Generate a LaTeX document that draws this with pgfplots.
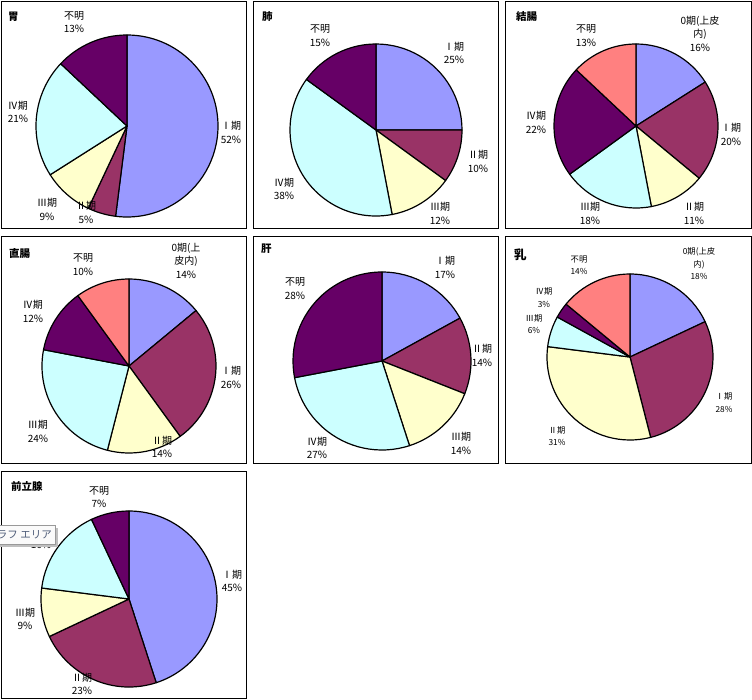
\documentclass[border=0pt]{standalone}
\usepackage{fontspec}
\setmainfont{Noto Sans CJK JP}
\usepackage{pgfplots}
\usepackage{pgfplotstable}
\pgfplotsset{compat=1.18}
\definecolor{cA}{HTML}{9999FF}
\definecolor{cB}{HTML}{993366}
\definecolor{cC}{HTML}{FFFFCC}
\definecolor{cD}{HTML}{CCFFFF}
\definecolor{cE}{HTML}{660066}
\definecolor{cF}{HTML}{FF8080}
\definecolor{tipcol}{HTML}{4E5C78}
\newcommand\lab{\fontsize{10}{13.5}\selectfont}
\newcommand\labs{\fontsize{8.3}{12.5}\selectfont}
\newcommand\ttl{\fontsize{10.5}{12}\selectfont\bfseries}

% data: v = percent, c = colour
\pgfplotstableread{
v c
52 cA
5 cB
9 cC
21 cD
13 cE
}\tIchi
\pgfplotstableread{
v c
25 cA
10 cB
12 cC
38 cD
15 cE
}\tHai
\pgfplotstableread{
v c
16 cA
20 cB
11 cC
18 cD
22 cE
13 cF
}\tKetsu
\pgfplotstableread{
v c
14 cA
26 cB
14 cC
24 cD
12 cE
10 cF
}\tChoku
\pgfplotstableread{
v c
17 cA
14 cB
14 cC
27 cD
28 cE
}\tKan
\pgfplotstableread{
v c
18 cA
28 cB
31 cC
6 cD
3 cE
14 cF
}\tNyu
\pgfplotstableread{
v c
45 cA
23 cB
9 cC
16 cD
7 cE
}\tZen

\newcommand\pie[4]{%
  \gdef\cum{0}%
  \pgfplotstableforeachcolumnelement{v}\of#1\as\val{%
    \pgfplotstablegetelem{\pgfplotstablerow}{c}\of#1%
    \edef\col{\pgfplotsretval}%
    \pgfmathsetmacro\angA{90-3.6*\cum}%
    \pgfmathsetmacro\angB{90-3.6*(\cum+\val)}%
    \draw[line width=1.2pt, fill=\col, line join=round] (axis cs:#2,#3) -- ++(\angA:#4pt) arc[start angle=\angA, end angle=\angB, radius=#4pt] -- cycle;
    \pgfmathsetmacro\tmp{\cum+\val}\xdef\cum{\tmp}%
  }%
}
\newcommand\lb[3]{\node[align=center, font=\lab, inner sep=0pt] at (axis cs:#1,#2) {#3};}
\newcommand\lbs[3]{\node[align=center, font=\labs, inner sep=0pt] at (axis cs:#1,#2) {#3};}
\newcommand\ttlnode[3]{\node[anchor=west, font=\ttl, inner sep=0pt] at (axis cs:#1,#2) {#3};}

\begin{document}
\begin{tikzpicture}
\begin{axis}[at={(0,0)}, anchor=south west, width=752pt, height=699pt, scale only axis,
  xmin=0, xmax=752, ymin=0, ymax=699, y dir=reverse, hide axis, clip=false]
\pgfplotsextra{
  % frames
  \draw[line width=0.9pt] (axis cs:1,1) rectangle (axis cs:246,228);
  \draw[line width=0.9pt] (axis cs:253,1) rectangle (axis cs:498,228);
  \draw[line width=0.9pt] (axis cs:505,1) rectangle (axis cs:751,228);
  \draw[line width=0.9pt] (axis cs:1,236) rectangle (axis cs:246,463);
  \draw[line width=0.9pt] (axis cs:253,236) rectangle (axis cs:498,463);
  \draw[line width=0.9pt] (axis cs:505,236) rectangle (axis cs:751,463);
  \draw[line width=0.9pt] (axis cs:1,471) rectangle (axis cs:246,698);
  % pies
  \pie{\tIchi}{127}{126}{91}
  \pie{\tHai}{376}{130}{86}
  \pie{\tKetsu}{636}{126}{82}
  \pie{\tChoku}{129}{366}{87}
  \pie{\tKan}{382}{361}{89}
  \pie{\tNyu}{630}{357}{83}
  \pie{\tZen}{129}{599}{88}
  % titles
  \ttlnode{8}{17}{胃}
  \ttlnode{262}{17}{肺}
  \ttlnode{516}{17}{結腸}
  \ttlnode{9}{254}{直腸}
  \ttlnode{261}{249}{肝}
  \node[anchor=west, font=\fontsize{12.5}{13}\selectfont\bfseries, inner sep=0pt] at (axis cs:514,255) {乳};
  \ttlnode{11}{487}{前立腺}
  % labels: stomach
  \lb{74}{22}{不明\\13\%}
  \lb{18}{112}{Ⅳ期\\21\%}
  \lb{231}{132.5}{Ⅰ期\\52\%}
  \lb{47}{209.5}{Ⅲ期\\9\%}
  \lb{86}{212.5}{Ⅱ期\\5\%}
  % lung
  \lb{320}{35.5}{不明\\15\%}
  \lb{454}{53}{Ⅰ期\\25\%}
  \lb{478}{161.5}{Ⅱ期\\10\%}
  \lb{440}{213.5}{Ⅲ期\\12\%}
  \lb{284}{189}{Ⅳ期\\38\%}
  % colon
  \lb{700}{33.5}{0期(上皮\\内)\\16\%}
  \lb{586}{35.5}{不明\\13\%}
  \lb{731}{134.5}{Ⅰ期\\20\%}
  \lb{694}{213.5}{Ⅱ期\\11\%}
  \lb{590}{213.5}{Ⅲ期\\18\%}
  \lb{536}{122.5}{Ⅳ期\\22\%}
  % rectum
  \lb{186}{260.5}{0期(上\\皮内)\\14\%}
  \lb{83}{264.5}{不明\\10\%}
  \lb{33}{311.5}{Ⅳ期\\12\%}
  \lb{231}{377.5}{Ⅰ期\\26\%}
  \lb{162}{447}{Ⅱ期\\14\%}
  \lb{38}{431.5}{Ⅲ期\\24\%}
  % liver
  \lb{445}{267.5}{Ⅰ期\\17\%}
  \lb{482}{355.5}{Ⅱ期\\14\%}
  \lb{461}{443.5}{Ⅲ期\\14\%}
  \lb{317}{448}{Ⅳ期\\27\%}
  \lb{295}{288.5}{不明\\28\%}
  % breast
  \lbs{699}{264}{0期(上皮\\内)\\18\%}
  \lbs{579}{265}{不明\\14\%}
  \lbs{544}{297.5}{Ⅳ期\\3\%}
  \lbs{534}{324}{Ⅲ期\\6\%}
  \lbs{724}{402.5}{Ⅰ期\\28\%}
  \lbs{557}{436}{Ⅱ期\\31\%}
  % prostate
  \lb{99}{497}{不明\\7\%}
  \lb{41}{537.5}{Ⅳ期\\16\%}
  \lb{232}{581}{Ⅰ期\\45\%}
  \lb{82}{684}{Ⅱ期\\23\%}
  \lb{25}{619}{Ⅲ期\\9\%}
  % tooltip (as in the reference screenshot)
  \begin{scope}
    \clip (axis cs:0,0) rectangle (axis cs:752,699);
    \fill[black!25] (axis cs:-3,528) rectangle (axis cs:58,547);
    \draw[draw=black!40, fill=black!2, line width=0.8pt] (axis cs:-6,525) rectangle (axis cs:55,544);
    \node[anchor=east, font=\fontsize{10.5}{12}\selectfont, text=tipcol, inner sep=0pt] at (axis cs:52,534.5) {グラフ エリア};
  \end{scope}
}
\end{axis}
\pgfresetboundingbox
\path (0,0) rectangle (752pt,699pt);
\end{tikzpicture}
\end{document}
